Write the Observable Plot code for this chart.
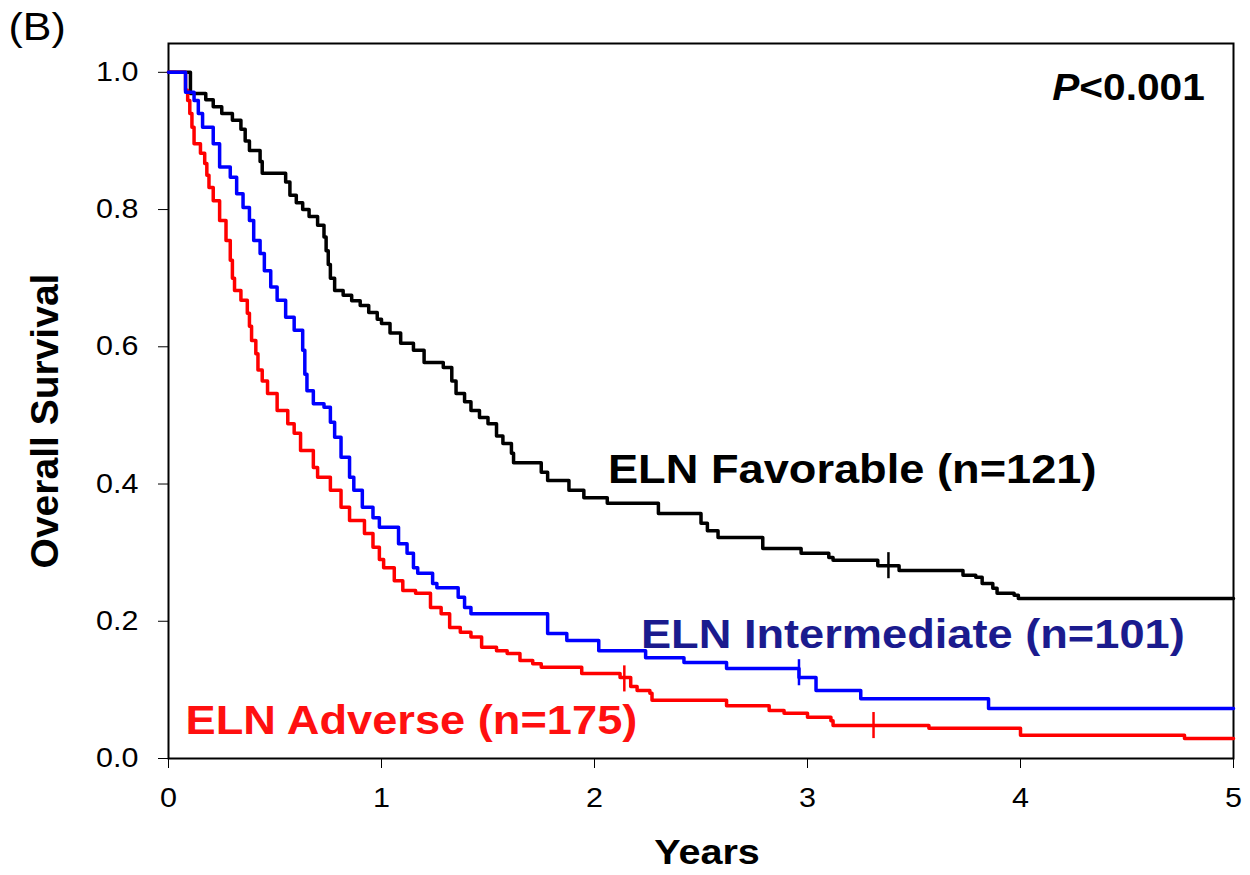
<!DOCTYPE html>
<html>
<head>
<meta charset="utf-8">
<script src="https://cdn.jsdelivr.net/npm/d3@7"></script>
<script src="https://cdn.jsdelivr.net/npm/@observablehq/plot@0.6"></script>
<style>
  body { margin: 0; background: #fff; }
  #chart svg { font-family: "Liberation Sans", Arial, sans-serif; }
</style>
</head>
<body>
<div id="chart"></div>
<script>
// ---- data ----
const groups = ["ELN Favorable", "ELN Adverse", "ELN Intermediate"];
const groupLabels = ["ELN Favorable (n=121)", "ELN Intermediate (n=101)", "ELN Adverse (n=175)"];
const groupColors = ["#000000", "#ff0000", "#0000ff"];

// [years, survival] step points (value holds after the time)
const favorable = [
  [0, 1.0], [0.103, 0.969], [0.175, 0.960], [0.21, 0.950], [0.25, 0.940], [0.30, 0.930],
  [0.34, 0.917], [0.36, 0.900], [0.38, 0.886], [0.43, 0.870], [0.44, 0.853], [0.55, 0.840],
  [0.57, 0.821], [0.60, 0.810], [0.63, 0.800], [0.66, 0.790], [0.70, 0.777], [0.73, 0.760],
  [0.74, 0.740], [0.75, 0.720], [0.76, 0.700], [0.78, 0.682], [0.82, 0.675], [0.86, 0.667],
  [0.90, 0.660], [0.94, 0.650], [0.98, 0.640], [1.00, 0.634], [1.04, 0.620], [1.09, 0.605],
  [1.15, 0.595], [1.20, 0.577], [1.29, 0.570], [1.33, 0.550], [1.35, 0.532], [1.39, 0.520],
  [1.42, 0.507], [1.46, 0.497], [1.50, 0.488], [1.54, 0.470], [1.57, 0.459], [1.61, 0.445],
  [1.62, 0.431], [1.75, 0.417], [1.78, 0.405], [1.88, 0.391], [1.95, 0.380], [2.06, 0.372],
  [2.30, 0.357], [2.50, 0.343], [2.53, 0.332], [2.58, 0.322], [2.79, 0.306], [2.97, 0.299],
  [3.10, 0.293], [3.12, 0.289], [3.33, 0.281], [3.43, 0.274], [3.73, 0.267], [3.79, 0.264],
  [3.82, 0.255], [3.87, 0.248], [3.89, 0.241], [3.97, 0.238], [3.99, 0.233], [5.0, 0.233]
];
const intermediate = [
  [0, 1.0], [0.08, 0.971], [0.12, 0.959], [0.14, 0.940], [0.16, 0.920], [0.21, 0.896],
  [0.24, 0.862], [0.29, 0.847], [0.32, 0.823], [0.35, 0.803], [0.38, 0.784], [0.40, 0.755],
  [0.43, 0.736], [0.45, 0.711], [0.48, 0.687], [0.51, 0.668], [0.55, 0.643], [0.59, 0.624],
  [0.63, 0.595], [0.64, 0.560], [0.65, 0.536], [0.68, 0.517], [0.73, 0.512], [0.76, 0.490],
  [0.78, 0.468], [0.81, 0.439], [0.85, 0.410], [0.87, 0.391], [0.91, 0.366], [0.96, 0.351],
  [0.99, 0.337], [1.08, 0.313], [1.12, 0.299], [1.15, 0.278], [1.17, 0.270], [1.24, 0.255],
  [1.26, 0.249], [1.36, 0.235], [1.39, 0.220], [1.42, 0.211], [1.78, 0.182], [1.87, 0.172],
  [2.02, 0.157], [2.24, 0.147], [2.42, 0.140], [2.62, 0.131], [2.96, 0.118], [3.04, 0.099],
  [3.25, 0.087], [3.85, 0.073], [5.0, 0.073]
];
const adverse = [
  [0, 1.0], [0.08, 0.974], [0.09, 0.959], [0.10, 0.940], [0.11, 0.920], [0.12, 0.896],
  [0.15, 0.882], [0.17, 0.867], [0.18, 0.850], [0.19, 0.832], [0.21, 0.813], [0.24, 0.784],
  [0.27, 0.755], [0.29, 0.726], [0.30, 0.700], [0.31, 0.682], [0.34, 0.668], [0.37, 0.649],
  [0.38, 0.630], [0.39, 0.609], [0.41, 0.590], [0.42, 0.566], [0.44, 0.550], [0.465, 0.532],
  [0.51, 0.507], [0.56, 0.488], [0.59, 0.474], [0.62, 0.449], [0.68, 0.424], [0.70, 0.410],
  [0.76, 0.391], [0.81, 0.366], [0.85, 0.347], [0.92, 0.328], [0.96, 0.308], [0.99, 0.290],
  [1.01, 0.278], [1.06, 0.259], [1.10, 0.245], [1.16, 0.241], [1.23, 0.220], [1.28, 0.211],
  [1.32, 0.191], [1.37, 0.184], [1.42, 0.177], [1.47, 0.162], [1.54, 0.157], [1.59, 0.153],
  [1.65, 0.143], [1.71, 0.138], [1.75, 0.133], [1.94, 0.124], [2.12, 0.118], [2.17, 0.105],
  [2.20, 0.099], [2.26, 0.095], [2.27, 0.085], [2.62, 0.077], [2.82, 0.070], [2.89, 0.066],
  [3.00, 0.060], [3.11, 0.055], [3.12, 0.048], [3.57, 0.044], [4.00, 0.034], [4.77, 0.029],
  [5.0, 0.029]
];
// censor marks [years, survival]
const favorableCensor = [[3.38, 0.281]];
const intermediateCensor = [[2.96, 0.125]];
const adverseCensor = [[2.14, 0.116], [3.31, 0.048]];

const xTicks = [0, 1, 2, 3, 4, 5];
const yTicks = [0, 0.2, 0.4, 0.6, 0.8, 1.0];
const pValue = "<0.001";

// ---- table for the library (draw order: favorable, adverse, intermediate) ----
const series = [favorable, adverse, intermediate];
const censors = [favorableCensor, adverseCensor, intermediateCensor];
const lineRows = series.flatMap((arr, i) => arr.map(([t, s]) => ({t, s, g: groups[i]})));
const censorRows = censors.flatMap((arr, i) => arr.map(([t, s]) => ({t, s, g: groups[i]})));

const font = "'Liberation Sans', Arial, sans-serif";

const chart = Plot.plot({
  width: 1250,
  height: 875,
  marginTop: 43,
  marginBottom: 117,
  marginLeft: 168,
  marginRight: 17,
  style: {fontFamily: font, fontSize: "27px", background: "#fff", color: "#000"},
  x: {domain: [0, 5]},
  y: {domain: [0, 1.042]},
  color: {domain: groups, range: groupColors},
  marks: [
    Plot.axisX({ticks: xTicks, tickSize: 10, tickPadding: 19, label: null, fontSize: 27, tickFormat: d3.format("d")}),
    Plot.axisY({ticks: yTicks, tickSize: 10, tickPadding: 20, label: null, fontSize: 27, tickFormat: d3.format(".1f")}),
    Plot.frame({stroke: "#000", strokeWidth: 2}),
    Plot.line(lineRows, {x: "t", y: "s", z: "g", stroke: "g", curve: "step-after", strokeWidth: 3.5}),
    Plot.ruleX(censorRows, {x: "t", y1: d => d.s - 0.019, y2: d => d.s + 0.019, stroke: "g", strokeWidth: 2.5}),
    Plot.text([groupLabels[0]], {x: 2.063, y: 0.42, textAnchor: "start", fontSize: 40, fontWeight: "bold", fill: "#000", className: "stretch"}),
    Plot.text([groupLabels[1]], {x: 2.218, y: 0.179, textAnchor: "start", fontSize: 40, fontWeight: "bold", fill: "#1b1b8e", className: "stretch"}),
    Plot.text([groupLabels[2]], {x: 0.08, y: 0.055, textAnchor: "start", fontSize: 40, fontWeight: "bold", fill: "#ff1010", className: "stretch"}),
    Plot.text(["P"], {x: 4.276, y: 0.977, textAnchor: "end", fontSize: 36, fontWeight: "bold", fontStyle: "italic", fill: "#000", className: "stretch"}),
    Plot.text([pValue], {x: 4.276, y: 0.977, textAnchor: "start", fontSize: 36, fontWeight: "bold", fill: "#000", className: "stretch"}),
    Plot.text(["Years"], {frameAnchor: "bottom", dx: 6, dy: 94, lineAnchor: "middle", textAnchor: "middle", fontSize: 35, fontWeight: "bold", fill: "#000", className: "stretch"}),
    Plot.text(["Overall Survival"], {frameAnchor: "left", dx: -123, dy: 20, rotate: -90, textAnchor: "middle", lineAnchor: "middle", fontSize: 39, fontWeight: "bold", fill: "#000"}),
    Plot.text(["(B)"], {frameAnchor: "top-left", dx: -160, dy: -16, textAnchor: "start", lineAnchor: "middle", fontSize: 38, fill: "#000", className: "stretch"})
  ]
});

document.getElementById("chart").appendChild(chart);

// the reference is slightly widened horizontally: stretch horizontal text to match
const stretch = 1.13;
d3.select(chart).selectAll("[aria-label='x-axis tick label'] text, [aria-label='y-axis tick label'] text, .stretch text").each(function () {
  const w = this.getComputedTextLength();
  this.setAttribute("textLength", (w * stretch).toFixed(1));
  this.setAttribute("lengthAdjust", "spacingAndGlyphs");
});
</script>
</body>
</html>
